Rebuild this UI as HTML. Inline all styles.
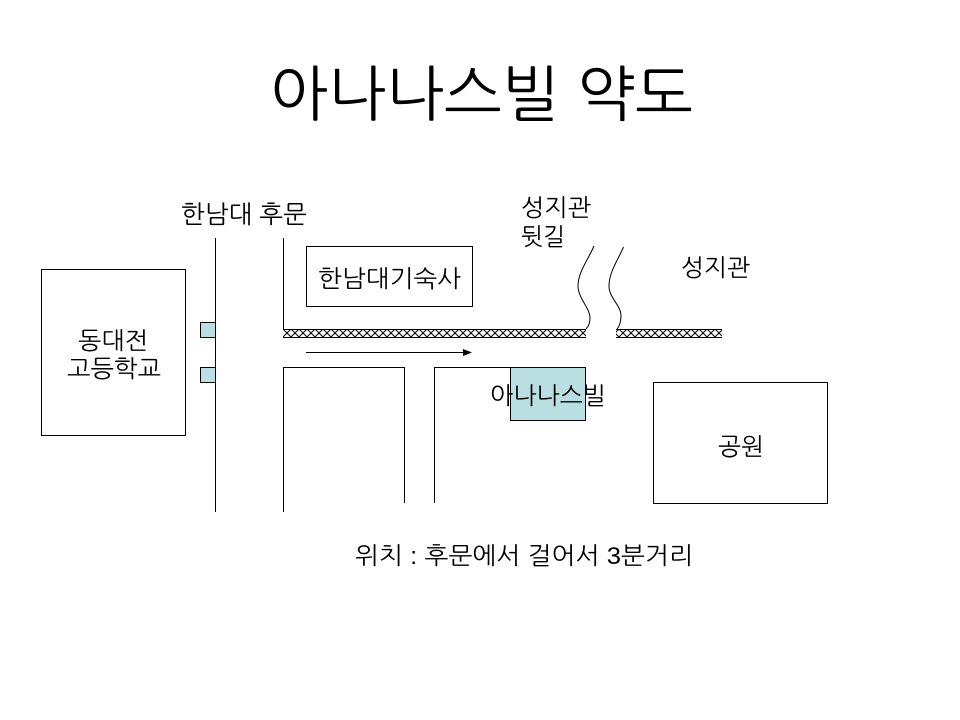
<!DOCTYPE html>
<html lang="ko">
<head>
<meta charset="utf-8">
<title>아나나스빌 약도</title>
<style>
html,body{margin:0;padding:0;background:#fff}
svg{display:block}
text{font-family:"Liberation Sans","NanumGothic","Noto Sans CJK KR",sans-serif;fill:#000}
</style>
</head>
<body>
<svg width="960" height="720" viewBox="0 0 960 720" xmlns="http://www.w3.org/2000/svg">
<defs>
<pattern id="h" width="8" height="8" patternUnits="userSpaceOnUse" x="283" y="329">
<path d="M0 0L8 8M8 0L0 8" stroke="#000" stroke-width="1" fill="none"/>
</pattern>
</defs>
<rect width="960" height="720" fill="#fff"/>

<text x="270" y="115" font-size="60" textLength="423" lengthAdjust="spacingAndGlyphs">아나나스빌 약도</text>

<text x="181" y="223" font-size="25" textLength="126" lengthAdjust="spacingAndGlyphs">한남대 후문</text>
<text x="521" y="216" font-size="24" textLength="70" lengthAdjust="spacingAndGlyphs">성지관</text>
<text x="521" y="245" font-size="24" textLength="44" lengthAdjust="spacingAndGlyphs">뒷길</text>
<text x="681" y="276" font-size="24" textLength="69" lengthAdjust="spacingAndGlyphs">성지관</text>

<g fill="none" stroke="#000" stroke-width="1" shape-rendering="crispEdges">
<rect x="41.5" y="269.5" width="144" height="166"/>
<rect x="306.5" y="246.5" width="166" height="60"/>
<rect x="653.5" y="382.5" width="174" height="121"/>
<rect x="200.5" y="322.5" width="15" height="15" fill="#b9dfe2"/>
<rect x="200.5" y="367.5" width="15" height="15" fill="#b9dfe2"/>
<path d="M215.5 238V512M283.5 238V329"/>
<path d="M283.5 512V367.5H404.5V503"/>
<path d="M434.5 503V367.5H511"/>
<rect x="510.5" y="367.5" width="75" height="53" fill="#b9dfe2"/>
<rect x="283" y="329" width="303" height="8" fill="url(#h)" stroke="none"/>
<rect x="616" y="329" width="106" height="8" fill="url(#h)" stroke="none"/>
<path d="M283 329.500H586M283 337.500H586M616 329.500H722M616 337.500H722"/>
<path d="M306 352.500H465"/>
</g>
<path d="M463 349L472 352.500L463 356Z" fill="#000"/>

<g fill="none" stroke="#000" stroke-width="1">
<path d="M594 246C588 260 578 272 578 286C578 298 590 308 590 318C590 323 588 327 586 329"/>
<path d="M623.500 247C618 260 609 272 609 286C609 298 621 305 621 316C621 322 619 327 617 329"/>
</g>

<text x="78" y="349" font-size="24" textLength="70" lengthAdjust="spacingAndGlyphs">동대전</text>
<text x="67" y="377" font-size="24" textLength="94" lengthAdjust="spacingAndGlyphs">고등학교</text>
<text x="318" y="287" font-size="24" textLength="143" lengthAdjust="spacingAndGlyphs">한남대기숙사</text>
<text x="490" y="404" font-size="24" textLength="116" lengthAdjust="spacingAndGlyphs">아나나스빌</text>
<text x="718" y="455" font-size="24" textLength="46" lengthAdjust="spacingAndGlyphs">공원</text>
<text x="355" y="564" font-size="24" textLength="338" lengthAdjust="spacingAndGlyphs">위치 : 후문에서 걸어서 3분거리</text>
</svg>
</body>
</html>
